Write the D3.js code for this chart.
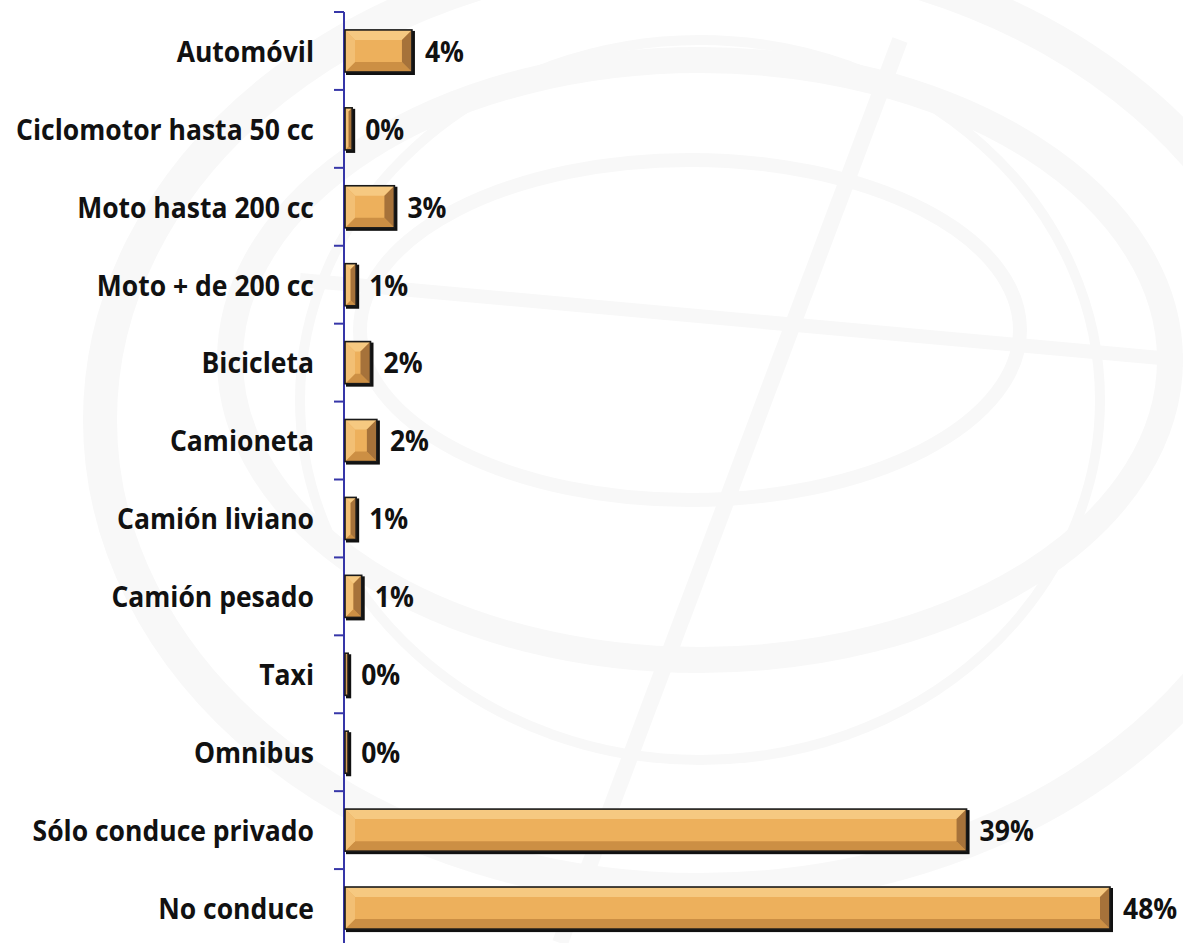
<!DOCTYPE html>
<html><head><meta charset="utf-8">
<script src="https://cdn.jsdelivr.net/npm/d3@7"></script>
<style>
html,body{margin:0;padding:0;background:#fff;}
svg{display:block;}
</style></head>
<body>
<script>
const categories = ["Automóvil","Ciclomotor hasta 50 cc","Moto hasta 200 cc","Moto + de 200 cc","Bicicleta","Camioneta","Camión liviano","Camión pesado","Taxi","Omnibus","Sólo conduce privado","No conduce"];
const values = [4.2, 0.45, 3.1, 0.7, 1.6, 2.0, 0.7, 1.05, 0.2, 0.2, 39.0, 48.0];
const valueLabels = ["4%","0%","3%","1%","2%","2%","1%","1%","0%","0%","39%","48%"];

const W = 1183, H = 943;
const svg = d3.select("body").append("svg").attr("width", W).attr("height", H);

// faint watermark background
const bg = svg.append("g").attr("fill","none").attr("stroke","#f8f8f8");
bg.append("ellipse").attr("cx",700).attr("cy",420).attr("rx",600).attr("ry",470).attr("stroke-width",34);
bg.append("ellipse").attr("cx",700).attr("cy",360).attr("rx",470).attr("ry",300).attr("stroke-width",26);
bg.append("ellipse").attr("cx",690).attr("cy",330).attr("rx",330).attr("ry",170).attr("stroke-width",14);
bg.append("ellipse").attr("cx",700).attr("cy",400).attr("rx",400).attr("ry",360).attr("stroke-width",10);
bg.append("line").attr("x1",560).attr("y1",943).attr("x2",900).attr("y2",40).attr("stroke-width",16);
bg.append("line").attr("x1",300).attr("y1",280).attr("x2",1183).attr("y2",360).attr("stroke-width",14);

const x0 = 345;
const x = d3.scaleLinear().domain([0, 48]).range([x0, 1110]);
const y = d3.scaleBand().domain(categories).range([12, 947]).paddingInner(0.46).paddingOuter(0.23);

// axis
const axis = d3.axisLeft(y).tickSize(0).tickFormat("");
const ag = svg.append("g").attr("transform",`translate(${x0-1},0)`).call(axis);
ag.select(".domain").remove();
ag.append("line").attr("x1",0).attr("x2",0).attr("y1",12).attr("y2",H).attr("stroke","#3636a8").attr("stroke-width",2);
const step = y.step();
const bounds = d3.range(categories.length + 1).map(i => 12 + i * step);
ag.selectAll("line.tk").data(bounds).join("line").attr("class","tk")
  .attr("x1",-10).attr("x2",0).attr("y1",d=>d).attr("y2",d=>d)
  .attr("stroke","#3636a8").attr("stroke-width",2);

// bars with bevel
const bars = svg.append("g");
categories.forEach((c, i) => {
  const bx = x0, by = y(c), bw = x(values[i]) - x0, bh = y.bandwidth();
  const g = bars.append("g");
  g.append("rect").attr("x",bx+1).attr("y",by+1).attr("width",bw+2).attr("height",bh+2).attr("fill","#111");
  g.append("rect").attr("x",bx).attr("y",by).attr("width",bw).attr("height",bh).attr("fill","#edb05c");
  const b = Math.min(10, bw/2, bh/2);
  const x1 = bx, x2 = bx + bw, y1 = by, y2 = by + bh;
  const poly = (pts, col) => g.append("polygon").attr("points", pts.map(p=>p.join(",")).join(" ")).attr("fill", col);
  poly([[x1,y1],[x2,y1],[x2-b,y1+b],[x1+b,y1+b]], "#f6c981");
  poly([[x1,y2],[x2,y2],[x2-b,y2-b],[x1+b,y2-b]], "#cc8f44");
  poly([[x1,y1],[x1+b,y1+b],[x1+b,y2-b],[x1,y2]], "#f2bf74");
  poly([[x2,y1],[x2-b,y1+b],[x2-b,y2-b],[x2,y2]], "#a6723a");
  g.append("rect").attr("x",bx).attr("y",by).attr("width",bw).attr("height",bh)
    .attr("fill","none").attr("stroke","#1a1a1a").attr("stroke-width",1.6);
});

// labels
const font = "'Open Sans', Lato, sans-serif";
const fs = 28.5;
const catG = svg.append("g");
const catTexts = catG.selectAll("text").data(categories).join("text")
  .attr("font-family", font).attr("font-weight", 700).attr("font-size", fs)
  .attr("fill", "#111").attr("text-anchor","end").attr("dominant-baseline","central")
  .text(d=>d);
let maxW = 0;
catTexts.each(function(){ maxW = Math.max(maxW, this.getComputedTextLength()); });
const sx = 298 / maxW;
catTexts.attr("transform", d => `translate(314,${y(d)+y.bandwidth()/2}) scale(${sx},1)`);

const valG = svg.append("g");
valG.selectAll("text").data(categories).join("text")
  .attr("font-family", font).attr("font-weight", 700).attr("font-size", fs)
  .attr("fill", "#111").attr("dominant-baseline","central")
  .attr("transform", (d,i) => `translate(${x(values[i])+13},${y(d)+y.bandwidth()/2}) scale(${sx},1)`)
  .text((d,i)=>valueLabels[i]);
</script>
</body></html>
